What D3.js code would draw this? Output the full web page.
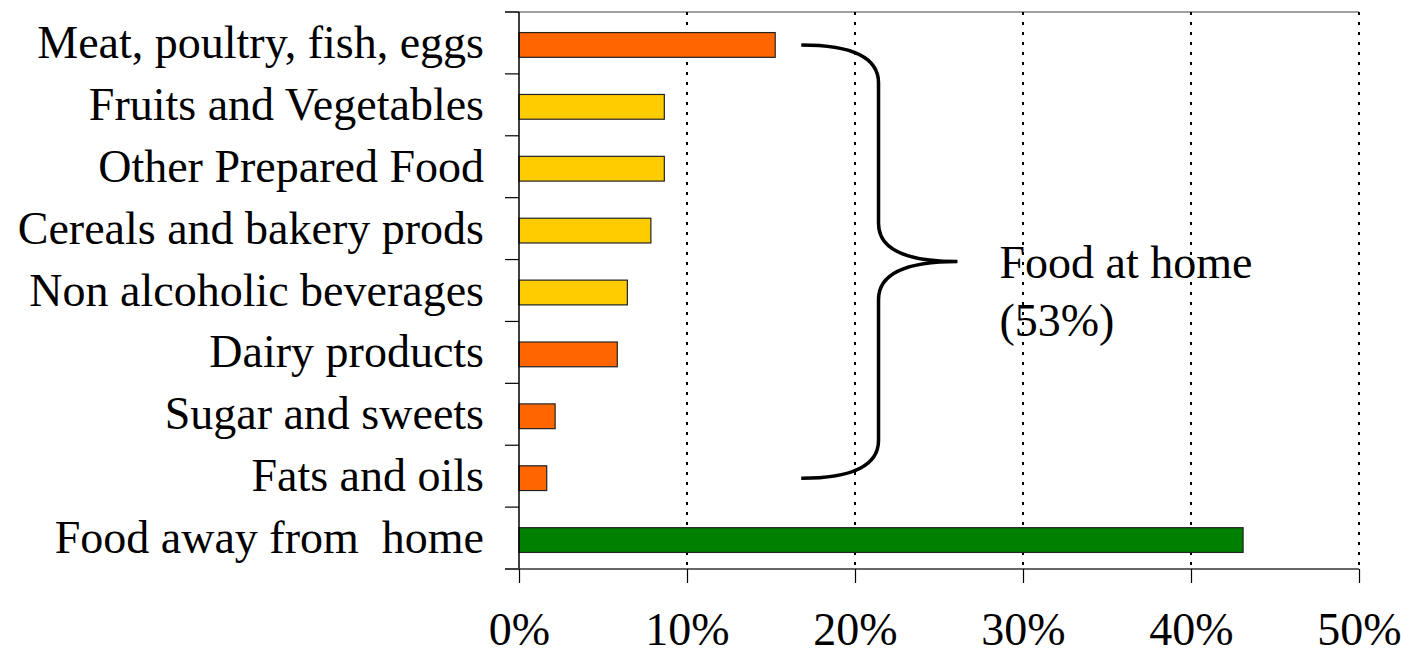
<!DOCTYPE html>
<html>
<head>
<meta charset="utf-8">
<script src="https://cdn.jsdelivr.net/npm/d3@7"></script>
<style>
  body { margin: 0; background: #fff; }
  text { font-family: "Liberation Serif", "Times New Roman", serif; fill: #000; white-space: pre; }
</style>
</head>
<body>
<div id="chart"></div>
<script>
var width = 1401,
    height = 655;

// categories, top to bottom
var categories = ["Meat, poultry, fish, eggs", "Fruits and Vegetables", "Other Prepared Food",
    "Cereals and bakery prods", "Non alcoholic beverages", "Dairy products",
    "Sugar and sweets", "Fats and oils", "Food away from  home"];
var shares = [15.25, 8.65, 8.65, 7.85, 6.45, 5.85, 2.15, 1.65, 43.1];
var groups = ["meat", "veg", "veg", "veg", "veg", "meat", "meat", "meat", "away"];
var xTicks = [0, 10, 20, 30, 40, 50];
var braceNote = ["Food at home", "(53%)"];

var color = { meat: "#ff6600", veg: "#ffcc00", away: "#008000" };

var margin = { top: 12, right: 42, bottom: 86, left: 519 };
var fontSize = 46;

var svg = d3.select("#chart").append("svg")
    .attr("width", width)
    .attr("height", height);

var x = d3.scaleLinear()
    .domain([0, 50])
    .range([margin.left, width - margin.right]);

var y = d3.scaleBand()
    .domain(categories)
    .range([margin.top, height - margin.bottom])
    .paddingInner(0.6)
    .paddingOuter(0.3);

var step = y.step();

// top border
svg.append("line")
    .attr("x1", margin.left - 14).attr("x2", x(50))
    .attr("y1", margin.top).attr("y2", margin.top)
    .attr("stroke", "#808080").attr("stroke-width", 1.5);

// dotted gridlines
svg.selectAll(".grid")
    .data(xTicks.slice(1))
    .enter().append("line")
    .attr("class", "grid")
    .attr("x1", d => x(d)).attr("x2", d => x(d))
    .attr("y1", margin.top).attr("y2", height - margin.bottom)
    .attr("stroke", "#000").attr("stroke-width", 2)
    .attr("stroke-dasharray", "3,7");

// bars
svg.selectAll(".bar")
    .data(categories)
    .enter().append("rect")
    .attr("class", "bar")
    .attr("x", x(0))
    .attr("y", d => y(d) + 2)
    .attr("width", (d, i) => x(shares[i]) - x(0))
    .attr("height", y.bandwidth())
    .attr("fill", (d, i) => color[groups[i]])
    .attr("stroke", "#222")
    .attr("stroke-width", 1.2);

// y axis line and ticks between bands
var yAxisG = svg.append("g");
yAxisG.append("line")
    .attr("x1", x(0)).attr("x2", x(0))
    .attr("y1", margin.top).attr("y2", height - margin.bottom)
    .attr("stroke", "#000").attr("stroke-width", 1.5);
yAxisG.selectAll(".ytick")
    .data(d3.range(categories.length + 1))
    .enter().append("line")
    .attr("class", "ytick")
    .attr("x1", x(0) - 14).attr("x2", x(0))
    .attr("y1", d => margin.top + d * step)
    .attr("y2", d => margin.top + d * step)
    .attr("stroke", "#000").attr("stroke-width", 1.2);

yAxisG.selectAll(".ylab")
    .data(categories)
    .enter().append("text")
    .attr("class", "ylab")
    .attr("x", x(0) - 35)
    .attr("y", d => y(d) + y.bandwidth() / 2 + 15)
    .attr("text-anchor", "end")
    .attr("font-size", fontSize)
    .text(d => d);

// x axis
var xAxis = d3.axisBottom(x)
    .tickValues(xTicks)
    .tickSize(14)
    .tickPadding(29)
    .tickFormat(d => d + "%");
var xg = svg.append("g")
    .attr("transform", "translate(0," + (height - margin.bottom) + ")")
    .call(xAxis);
xg.select(".domain")
    .attr("d", "M" + (x(0) - 14) + ",0H" + x(50))
    .attr("stroke", "#333").attr("stroke-width", 1.5);
xg.selectAll(".tick line").attr("stroke", "#000").attr("stroke-width", 1.2);
xg.selectAll(".tick text")
    .attr("font-size", fontSize)
    .attr("font-family", "Liberation Serif, serif")
    .attr("fill", "#000");

// curly brace around the food-at-home bars
var yTop = y(categories[0]) + y.bandwidth() / 2 + 2,
    yBot = y(categories[7]) + y.bandwidth() / 2 + 2,
    yMid = (yTop + yBot) / 2,
    bx0 = x(16.8), bx1 = x(21.4), bx2 = x(26.1),
    r = 38;
var brace = d3.path();
brace.moveTo(bx0, yTop);
brace.quadraticCurveTo(bx1, yTop, bx1, yTop + r);
brace.lineTo(bx1, yMid - r);
brace.quadraticCurveTo(bx1, yMid, bx2, yMid);
brace.quadraticCurveTo(bx1, yMid, bx1, yMid + r);
brace.lineTo(bx1, yBot - r);
brace.quadraticCurveTo(bx1, yBot, bx0, yBot);
svg.append("path")
    .attr("d", brace.toString())
    .attr("fill", "none")
    .attr("stroke", "#000")
    .attr("stroke-width", 3.5);

svg.selectAll(".note")
    .data(braceNote)
    .enter().append("text")
    .attr("class", "note")
    .attr("x", x(28.6))
    .attr("y", (d, i) => yMid + 16 + i * 58)
    .attr("font-size", fontSize)
    .text(d => d);
</script>
</body>
</html>
